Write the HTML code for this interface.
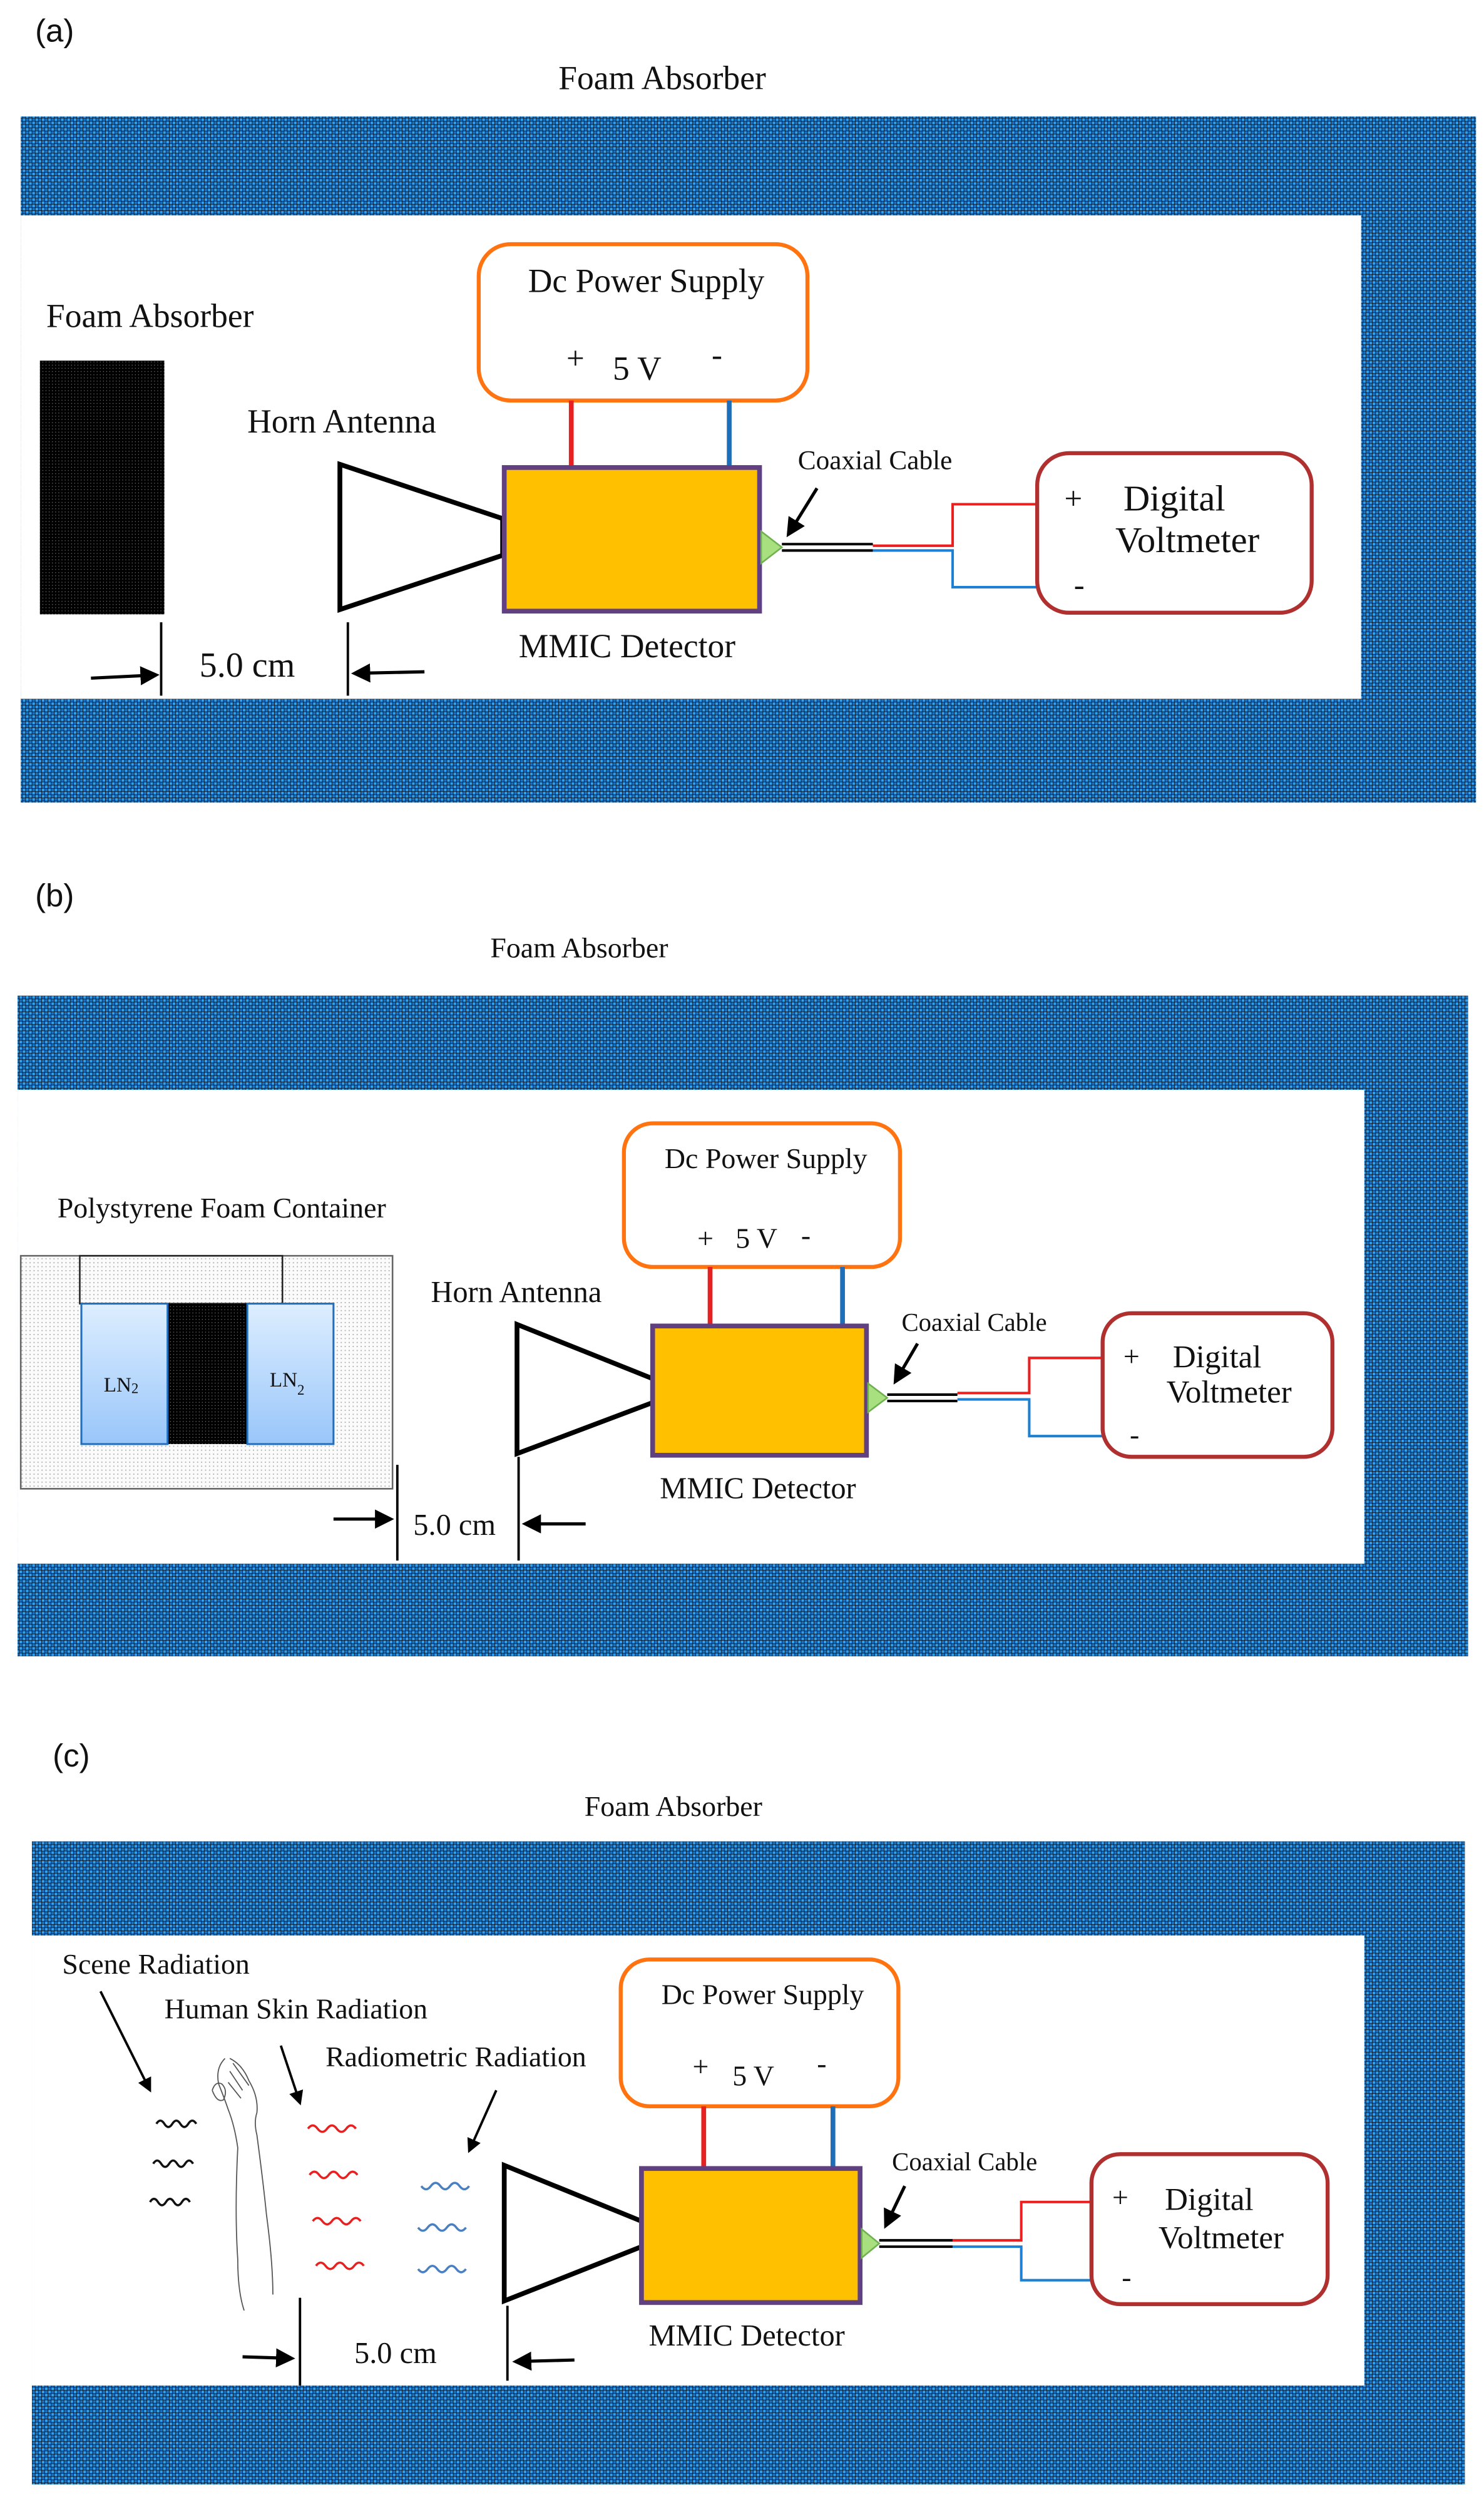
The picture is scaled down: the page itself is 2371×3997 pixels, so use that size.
<!DOCTYPE html>
<html><head><meta charset="utf-8"><style>
html,body{margin:0;padding:0;background:#fff;}
svg{display:block;}
text{font-family:"Liberation Serif",serif;fill:#111;}
.s{font-family:"Liberation Sans",sans-serif;}
</style></head><body>
<svg width="2371" height="3997" viewBox="0 0 930 1568" preserveAspectRatio="none" xmlns="http://www.w3.org/2000/svg">
<defs>
<pattern id="chk" width="4" height="4" patternUnits="userSpaceOnUse">
<rect width="4" height="4" fill="#03080e"/>
<rect x="0.2" y="0.2" width="1.7" height="1.7" fill="#2fa2f6"/>
<rect x="2.2" y="2.2" width="1.7" height="1.7" fill="#2fa2f6"/>
<rect x="2.2" y="0.2" width="1.7" height="1.7" fill="#1a70c0"/>
<rect x="0.2" y="2.2" width="1.7" height="1.7" fill="#1a70c0"/>
</pattern>
<pattern id="blk" width="2" height="2" patternUnits="userSpaceOnUse">
<rect width="2" height="2" fill="#000"/><rect x="0.6" y="0.6" width="0.5" height="0.5" fill="#777"/>
</pattern>
<pattern id="dot" width="2.5" height="2.5" patternUnits="userSpaceOnUse">
<rect width="2.5" height="2.5" fill="#fbfbfb"/><rect x="1" y="1" width="0.7" height="0.7" fill="#aaa"/>
</pattern>
<linearGradient id="ln" x1="0" y1="0" x2="0" y2="1"><stop offset="0" stop-color="#ddeeff"/><stop offset="1" stop-color="#99c6fa"/></linearGradient>
<marker id="ah" markerWidth="6" markerHeight="6" refX="5" refY="3" orient="auto" markerUnits="strokeWidth"><path d="M0,0 L6,3 L0,6 z" fill="#000"/></marker>
</defs>

<!-- ===== (a) ===== -->
<text class="s" x="22" y="26" font-size="20">(a)</text>
<text x="415" y="56" font-size="21" text-anchor="middle">Foam Absorber</text>
<rect x="13" y="73" width="912" height="430" fill="url(#chk)"/>
<rect x="13" y="135" width="840" height="303" fill="#fff"/>
<text x="29" y="205" font-size="21">Foam Absorber</text>
<rect x="25" y="226" width="78" height="159" fill="url(#blk)"/>
<text x="155" y="271" font-size="21">Horn Antenna</text>
<polygon points="213,291 315,325 315,348 213,382" fill="#fff" stroke="#000" stroke-width="3"/>
<rect x="300" y="153" width="206" height="98" rx="20" fill="#fff" stroke="#ff7410" stroke-width="2.5"/>
<text x="405" y="183" font-size="21" text-anchor="middle">Dc Power Supply</text>
<text x="355" y="231" font-size="20">+</text>
<text x="384" y="238" font-size="21">5 V</text>
<text x="446" y="229" font-size="20">-</text>
<line x1="358" y1="251" x2="358" y2="292" stroke="#e82020" stroke-width="3"/>
<line x1="457" y1="251" x2="457" y2="292" stroke="#1f6fb8" stroke-width="3"/>
<rect x="316" y="293" width="160" height="90" fill="#ffc000" stroke="#604080" stroke-width="3"/>
<text x="393" y="412" font-size="21" text-anchor="middle">MMIC Detector</text>
<polygon points="477,333 490,343 477,353" fill="#a8e080" stroke="#70b050" stroke-width="1"/>
<line x1="490" y1="341" x2="547" y2="341" stroke="#000" stroke-width="1.6"/>
<line x1="490" y1="345" x2="547" y2="345" stroke="#000" stroke-width="1.6"/>
<polyline points="547,342 597,342 597,316 650,316" fill="none" stroke="#e82020" stroke-width="1.6"/>
<polyline points="547,345 597,345 597,368 650,368" fill="none" stroke="#1f7fd0" stroke-width="1.6"/>
<text x="500" y="294" font-size="17">Coaxial Cable</text>
<line x1="512" y1="306" x2="494" y2="335" stroke="#000" stroke-width="2" marker-end="url(#ah)"/>
<rect x="650" y="284" width="172" height="100" rx="20" fill="#fff" stroke="#b03030" stroke-width="2.5"/>
<text x="667" y="319" font-size="20">+</text>
<text x="704" y="320" font-size="23">Digital</text>
<text x="699" y="346" font-size="23">Voltmeter</text>
<text x="673" y="373" font-size="20">-</text>
<line x1="101" y1="390" x2="101" y2="436" stroke="#000" stroke-width="1.5"/>
<line x1="218" y1="390" x2="218" y2="436" stroke="#000" stroke-width="1.5"/>
<line x1="57" y1="425" x2="98" y2="423" stroke="#000" stroke-width="2" marker-end="url(#ah)"/>
<line x1="266" y1="421" x2="222" y2="422" stroke="#000" stroke-width="2" marker-end="url(#ah)"/>
<text x="125" y="424" font-size="22">5.0 cm</text>

<!-- ===== (b) ===== -->
<text class="s" x="22" y="568" font-size="20">(b)</text>
<text x="363" y="600" font-size="18" text-anchor="middle">Foam Absorber</text>
<rect x="11" y="624" width="909" height="414" fill="url(#chk)"/>
<rect x="11" y="683" width="844" height="297" fill="#fff"/>
<text x="36" y="763" font-size="18">Polystyrene Foam Container</text>
<rect x="13" y="787" width="233" height="146" fill="url(#dot)" stroke="#666" stroke-width="1"/>
<rect x="50" y="787" width="127" height="30" fill="none" stroke="#222" stroke-width="1"/>
<rect x="105" y="817" width="50" height="88" fill="url(#blk)"/>
<rect x="51" y="817" width="54" height="88" fill="url(#ln)" stroke="#1f70c0" stroke-width="1.2"/>
<rect x="155" y="817" width="54" height="88" fill="url(#ln)" stroke="#1f70c0" stroke-width="1.2"/>
<text x="65" y="872" font-size="13">LN<tspan font-size="9" dy="1">2</tspan></text>
<text x="169" y="869" font-size="13">LN<tspan font-size="9" dy="5">2</tspan></text>
<text x="270" y="816" font-size="19">Horn Antenna</text>
<polygon points="324,830 409,864 409,879 324,911" fill="#fff" stroke="#000" stroke-width="3"/>
<rect x="391" y="704" width="173" height="90" rx="18" fill="#fff" stroke="#ff7410" stroke-width="2.5"/>
<text x="480" y="732" font-size="18" text-anchor="middle">Dc Power Supply</text>
<text x="437" y="782" font-size="18">+</text>
<text x="461" y="782" font-size="18">5 V</text>
<text x="502" y="780" font-size="18">-</text>
<line x1="445" y1="794" x2="445" y2="830" stroke="#e82020" stroke-width="3"/>
<line x1="528" y1="794" x2="528" y2="830" stroke="#1f6fb8" stroke-width="3"/>
<rect x="409" y="831" width="134" height="81" fill="#ffc000" stroke="#604080" stroke-width="3"/>
<text x="475" y="939" font-size="19" text-anchor="middle">MMIC Detector</text>
<polygon points="544,867 556,876 544,885" fill="#a8e080" stroke="#70b050" stroke-width="1"/>
<line x1="556" y1="874" x2="600" y2="874" stroke="#000" stroke-width="1.6"/>
<line x1="556" y1="878" x2="600" y2="878" stroke="#000" stroke-width="1.6"/>
<polyline points="600,873 645,873 645,851 691,851" fill="none" stroke="#e82020" stroke-width="1.6"/>
<polyline points="600,877 645,877 645,900 691,900" fill="none" stroke="#1f7fd0" stroke-width="1.6"/>
<text x="565" y="834" font-size="16">Coaxial Cable</text>
<line x1="575" y1="842" x2="561" y2="866" stroke="#000" stroke-width="2" marker-end="url(#ah)"/>
<rect x="691" y="823" width="144" height="90" rx="18" fill="#fff" stroke="#b03030" stroke-width="2.5"/>
<text x="704" y="856" font-size="18">+</text>
<text x="735" y="857" font-size="20">Digital</text>
<text x="731" y="879" font-size="20">Voltmeter</text>
<text x="708" y="905" font-size="18">-</text>
<line x1="249" y1="918" x2="249" y2="978" stroke="#000" stroke-width="1.5"/>
<line x1="325" y1="913" x2="325" y2="978" stroke="#000" stroke-width="1.5"/>
<line x1="209" y1="952" x2="245" y2="952" stroke="#000" stroke-width="2" marker-end="url(#ah)"/>
<line x1="367" y1="955" x2="329" y2="955" stroke="#000" stroke-width="2" marker-end="url(#ah)"/>
<text x="259" y="962" font-size="19">5.0 cm</text>

<!-- ===== (c) ===== -->
<text class="s" x="33" y="1107" font-size="20">(c)</text>
<text x="422" y="1138" font-size="18" text-anchor="middle">Foam Absorber</text>
<rect x="20" y="1154" width="898" height="403" fill="url(#chk)"/>
<rect x="20" y="1213" width="835" height="282" fill="#fff"/>
<text x="39" y="1237" font-size="18">Scene Radiation</text>
<text x="103" y="1265" font-size="18">Human Skin Radiation</text>
<text x="204" y="1295" font-size="18">Radiometric Radiation</text>
<line x1="63" y1="1248" x2="94" y2="1310" stroke="#000" stroke-width="1.5" marker-end="url(#ah)"/>
<line x1="176" y1="1282" x2="188" y2="1318" stroke="#000" stroke-width="1.5" marker-end="url(#ah)"/>
<line x1="311" y1="1310" x2="294" y2="1348" stroke="#000" stroke-width="1.5" marker-end="url(#ah)"/>
<g fill="none" stroke-width="1.4">
<path d="M98 1331 q2.5 -4 5 0 t5 0 t5 0 t5 0 t5 0" stroke="#111"/>
<path d="M96 1356 q2.5 -4 5 0 t5 0 t5 0 t5 0 t5 0" stroke="#111"/>
<path d="M94 1380 q2.5 -4 5 0 t5 0 t5 0 t5 0 t5 0" stroke="#111"/>
<path d="M193 1334 q3 -4 6 0 t6 0 t6 0 t6 0 t6 0" stroke="#e82020"/>
<path d="M194 1363 q3 -4 6 0 t6 0 t6 0 t6 0 t6 0" stroke="#e82020"/>
<path d="M196 1392 q3 -4 6 0 t6 0 t6 0 t6 0 t6 0" stroke="#e82020"/>
<path d="M198 1420 q3 -4 6 0 t6 0 t6 0 t6 0 t6 0" stroke="#e82020"/>
<path d="M264 1370 q3 4 6 0 t6 0 t6 0 t6 0 t6 0" stroke="#4a80c0"/>
<path d="M262 1396 q3 4 6 0 t6 0 t6 0 t6 0 t6 0" stroke="#4a80c0"/>
<path d="M262 1422 q3 4 6 0 t6 0 t6 0 t6 0 t6 0" stroke="#4a80c0"/>
</g>
<g fill="none" stroke="#555" stroke-width="0.7">
<path d="M141 1290 q-6 6 -4 16 q4 10 6 16 q4 10 6 24 q-2 40 0 70 q0 20 4 32"/>
<path d="M144 1290 q8 4 12 14 q6 10 5 20 q-2 6 0 14 q4 30 6 50 q4 30 4 50"/>
<path d="M133 1310 q2 -6 6 -4 q4 4 1 10 q-4 2 -7 -6"/>
<path d="M144 1298 l8 12 M146 1293 l10 14 M143 1305 l8 10"/>
</g>
<polygon points="316,1357 402,1392 402,1408 316,1442" fill="#fff" stroke="#000" stroke-width="3"/>
<rect x="389" y="1228" width="174" height="92" rx="18" fill="#fff" stroke="#ff7410" stroke-width="2.5"/>
<text x="478" y="1256" font-size="18" text-anchor="middle">Dc Power Supply</text>
<text x="434" y="1301" font-size="18">+</text>
<text x="459" y="1307" font-size="18">5 V</text>
<text x="512" y="1299" font-size="18">-</text>
<line x1="441" y1="1320" x2="441" y2="1358" stroke="#e82020" stroke-width="3"/>
<line x1="522" y1="1320" x2="522" y2="1358" stroke="#1f6fb8" stroke-width="3"/>
<rect x="402" y="1359" width="137" height="84" fill="#ffc000" stroke="#604080" stroke-width="3"/>
<text x="468" y="1470" font-size="19" text-anchor="middle">MMIC Detector</text>
<polygon points="540,1397 551,1406 540,1415" fill="#a8e080" stroke="#70b050" stroke-width="1"/>
<line x1="551" y1="1404" x2="597" y2="1404" stroke="#000" stroke-width="1.6"/>
<line x1="551" y1="1408" x2="597" y2="1408" stroke="#000" stroke-width="1.6"/>
<polyline points="597,1404 640,1404 640,1380 684,1380" fill="none" stroke="#e82020" stroke-width="1.6"/>
<polyline points="597,1408 640,1408 640,1429 684,1429" fill="none" stroke="#1f7fd0" stroke-width="1.6"/>
<text x="559" y="1360" font-size="16">Coaxial Cable</text>
<line x1="567" y1="1370" x2="555" y2="1395" stroke="#000" stroke-width="2" marker-end="url(#ah)"/>
<rect x="684" y="1350" width="148" height="94" rx="18" fill="#fff" stroke="#b03030" stroke-width="2.5"/>
<text x="697" y="1383" font-size="18">+</text>
<text x="730" y="1385" font-size="20">Digital</text>
<text x="726" y="1409" font-size="20">Voltmeter</text>
<text x="703" y="1433" font-size="18">-</text>
<line x1="188" y1="1440" x2="188" y2="1495" stroke="#000" stroke-width="1.5"/>
<line x1="318" y1="1445" x2="318" y2="1492" stroke="#000" stroke-width="1.5"/>
<line x1="152" y1="1477" x2="183" y2="1478" stroke="#000" stroke-width="2" marker-end="url(#ah)"/>
<line x1="360" y1="1479" x2="323" y2="1480" stroke="#000" stroke-width="2" marker-end="url(#ah)"/>
<text x="222" y="1481" font-size="19">5.0 cm</text>
</svg>
</body></html>
